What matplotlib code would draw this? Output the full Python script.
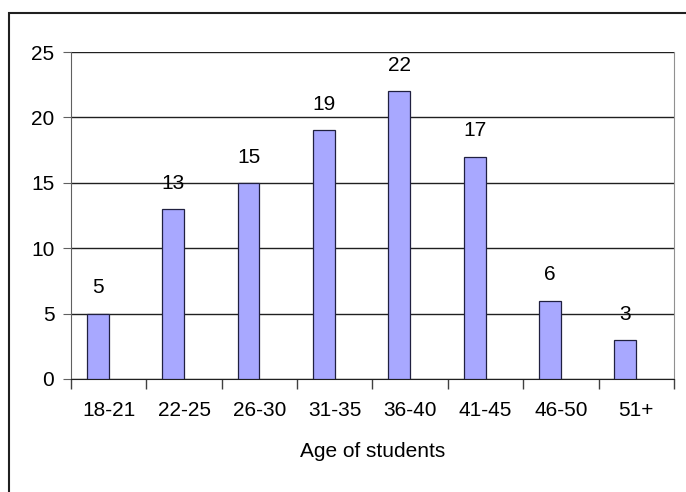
import matplotlib.pyplot as plt
from matplotlib.patches import Rectangle
import numpy as np

plt.rcParams['font.family'] = ['Liberation Sans', 'DejaVu Sans']

# student counts per age band
age_groups = ['18-21', '22-25', '26-30', '31-35', '36-40', '41-45', '46-50', '51+']
students = [5, 13, 15, 19, 22, 17, 6, 3]
y_ticks = [0, 5, 10, 15, 20, 25]

fig = plt.figure(figsize=(6.86, 4.92), dpi=100)
ax = fig.add_axes([0.1035, 0.2297, 0.879, 0.6646])

x = np.arange(len(age_groups))
bar_w = 0.29
bars = ax.bar(x - bar_w / 2, students, width=bar_w, color='#a8a8ff',
              edgecolor='#202040', linewidth=0.9, zorder=3)

for xi, v in zip(x, students):
    ax.annotate(str(v), (xi - bar_w / 2, v), xytext=(0, 18.5),
                textcoords='offset points', ha='center', va='center',
                fontsize=15)

ax.set_xlim(-0.5, len(age_groups) - 0.5)
ax.set_ylim(0, 25)
ax.set_yticks(y_ticks)
ax.tick_params(axis='y', labelsize=15, length=6, color='#606060', pad=6)

# category labels centred, tick marks on the boundaries
ax.set_xticks(x)
ax.set_xticklabels(age_groups, fontsize=15)
ax.tick_params(axis='x', which='major', length=0, pad=16)
ax.set_xticks(np.arange(len(age_groups) + 1) - 0.5, minor=True)
ax.tick_params(axis='x', which='minor', length=7, color='#404040', width=1)

ax.yaxis.grid(True, color='#202020', linewidth=1, zorder=0)
ax.set_axisbelow(True)
ax.spines['top'].set_visible(False)
ax.spines['left'].set_color('#606060')
ax.spines['right'].set_color('#909090')
ax.spines['bottom'].set_color('#202020')

ax.set_xlabel('Age of students', fontsize=15, labelpad=16)

# chart frame
fig.patches.append(Rectangle((9 / 686, -0.1), 1.1, 1 - 13 / 492 + 0.1,
                             transform=fig.transFigure, fill=False,
                             edgecolor='#202020', linewidth=1.5))

fig.savefig('out.png', dpi=100)
